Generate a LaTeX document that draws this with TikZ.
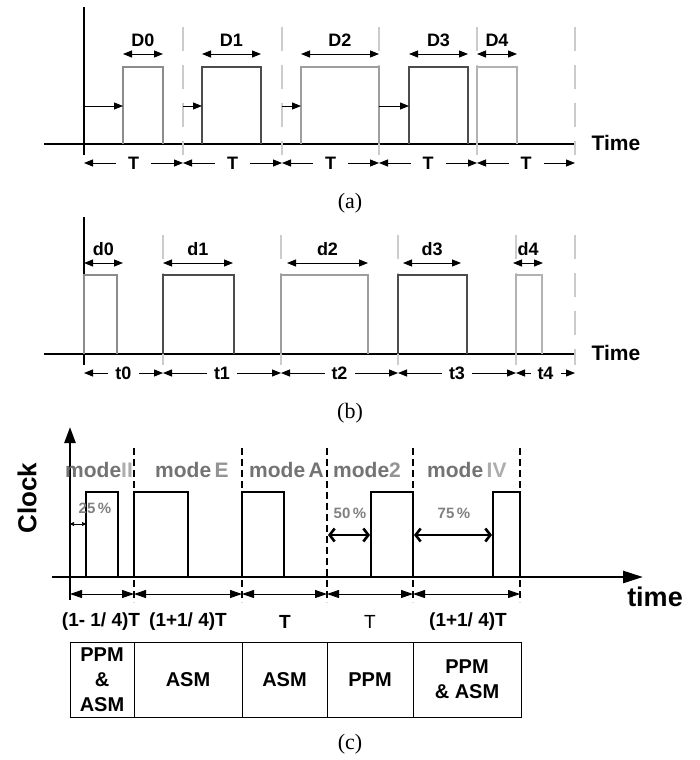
\documentclass[tikz,border=0pt]{standalone}
\usepackage{fontspec}
\setmainfont{Liberation Sans}
\newfontfamily\capfont{Liberation Serif}
\usetikzlibrary{arrows.meta,calc}
\definecolor{gA}{gray}{0.55}
\definecolor{gB}{gray}{0.30}
\definecolor{gC}{gray}{0.62}
\definecolor{gD}{gray}{0.70}
\definecolor{dashg}{gray}{0.80}
\definecolor{modeg}{gray}{0.45}
\definecolor{model}{gray}{0.68}
\definecolor{pctg}{gray}{0.50}
\begin{document}
\begin{tikzpicture}[x=1pt,y=-1pt,
  tri/.style={-{Triangle[length=9pt,width=7pt]}},
  dimar/.style={{Triangle[length=9pt,width=7pt]}-{Triangle[length=9pt,width=7pt]}, line width=0.9pt},
  cdim/.style={{Triangle[length=12pt,width=8pt]}-{Triangle[length=12pt,width=8pt]}, line width=0.9pt},
  barb/.style={{Straight Barb[length=5pt,width=13pt]}-{Straight Barb[length=5pt,width=13pt]}, line width=2.6pt},
  gdash/.style={draw=dashg, line width=2.2pt, dash pattern=on 24pt off 14pt},
  kdash/.style={draw=black, line width=1.3pt, dash pattern=on 7pt off 4pt},
  pulse/.style={line width=1.5pt},
  lab/.style={font=\bfseries\fontsize{18}{21}\selectfont, inner sep=0pt},
  gaplab/.style={font=\bfseries\fontsize{18}{21}\selectfont, fill=white, inner xsep=#1, inner ysep=2pt},
  capt/.style={font=\capfont\fontsize{22}{25}\selectfont, inner sep=0pt},
  modelab/.style={font=\bfseries\fontsize{21}{24}\selectfont, text=modeg, inner sep=0pt, anchor=west},
  pct/.style={font=\bfseries\fontsize{15}{17}\selectfont, text=pctg, inner sep=0pt},
  cell/.style={draw, line width=1pt, minimum height=75pt, inner sep=0pt, align=center, font=\bfseries\fontsize{20}{25}\selectfont},
  tlab/.style={font=\bfseries\fontsize{19}{22}\selectfont, inner sep=0pt},
  timelab/.style={font=\bfseries\fontsize{21}{24}\selectfont, inner sep=0pt},
]
\useasboundingbox (0,0) rectangle (700,760);

% ---------------- (a) ----------------
\coordinate (aTop) at (84,7); \coordinate (aBot) at (84,155);
\draw[line width=1.2pt] (aTop) -- (aBot);
\coordinate (aL) at (44,144); \coordinate (aR) at (575,144);
\draw[line width=1.4pt] (aL) -- (aR);
\foreach \x [count=\i] in {183,282,379,477,575} {
  \coordinate (adt\i) at (\x,27); \coordinate (adb\i) at (\x,155);
  \draw[gdash] (adt\i) -- (adb\i);
}
\foreach \l/\r/\c/\t [count=\i] in {123/163/gA/D0,202/261/gB/D1,301/379/gC/D2,409/468/gB/D3,477/517/gD/D4} {
  \coordinate (apl\i) at (\l,144); \coordinate (apr\i) at (\r,144);
  \draw[pulse,draw=\c] (apl\i) |- (\r,67) -- (apr\i);
  \coordinate (aDl\i) at (\l,54); \coordinate (aDr\i) at (\r,54);
  \draw[dimar] (aDl\i) -- (aDr\i);
  \node[lab] (aDlab\i) at ($(aDl\i)!0.5!(aDr\i)+(0,-14)$) {\t};
}
\foreach \a/\b [count=\i] in {84/123,183/202,282/301,379/409} {
  \coordinate (ahs\i) at (\a,106); \coordinate (ahe\i) at (\b,106);
  \draw[tri,line width=0.9pt] (ahs\i) -- (ahe\i);
}
\foreach \a/\b [count=\i] in {84/183,183/282,282/379,379/477,477/575} {
  \coordinate (aTs\i) at (\a,163); \coordinate (aTe\i) at (\b,163);
  \draw[dimar] (aTs\i) -- node[gaplab=12pt] (aTl\i) {T} (aTe\i);
}
\node[timelab] (aTime) at (616,143) {Time};
\node[capt] (capa) at (350,203) {(a)};

% ---------------- (b) ----------------
\coordinate (bTop) at (84,217); \coordinate (bBot) at (84,365);
\draw[line width=1.2pt] (bTop) -- (bBot);
\coordinate (bL) at (44,354); \coordinate (bR) at (575,354);
\draw[line width=1.4pt] (bL) -- (bR);
\foreach \x [count=\i] in {163,281,398,516,575} {
  \coordinate (bdt\i) at (\x,235); \coordinate (bdb\i) at (\x,365);
  \draw[gdash] (bdt\i) -- (bdb\i);
}
\foreach \l/\r/\c [count=\i] in {84/117/gA,163/234/gB,281/368/gC,398/467/gB,516/542/gD} {
  \coordinate (bpl\i) at (\l,354); \coordinate (bpr\i) at (\r,354);
  \draw[pulse,draw=\c] (bpl\i) |- (\r,275) -- (bpr\i);
}
\foreach \l/\r/\t [count=\i] in {84/123/d0,163/233/d1,287/368/d2,403/461/d3,513/543/d4} {
  \coordinate (bDl\i) at (\l,263); \coordinate (bDr\i) at (\r,263);
  \draw[dimar] (bDl\i) -- (bDr\i);
  \node[lab] (bDlab\i) at ($(bDl\i)!0.5!(bDr\i)+(0,-14)$) {\t};
}
\foreach \a/\b/\t [count=\i] in {84/163/t0,163/281/t1,281/398/t2,398/516/t3,516/575/t4} {
  \coordinate (bTs\i) at (\a,373); \coordinate (bTe\i) at (\b,373);
  \draw[dimar] (bTs\i) -- node[gaplab=7pt] (bTl\i) {\t} (bTe\i);
}
\node[timelab] (bTime) at (616,353) {Time};
\node[capt] (capb) at (350,413) {(b)};

% ---------------- (c) ----------------
\node[font=\bfseries\fontsize{26}{30}\selectfont, rotate=90, inner sep=0pt] (clk) at (27,498) {Clock};
\coordinate (cY0) at (70,600); \coordinate (cY1) at (70,427);
\coordinate (cX0) at (52,577); \coordinate (cX1) at (643,577);
\foreach \x [count=\i] in {134,242,327,413,520} {
  \coordinate (cdt\i) at (\x,448); \coordinate (cdb\i) at (\x,602);
  \draw[kdash] (cdt\i) -- (cdb\i);
}
\foreach \l/\r [count=\i] in {86/118,134/188,242/284,371/413,493/520} {
  \coordinate (cpl\i) at (\l,577); \coordinate (cpr\i) at (\r,577);
  \draw[pulse] (cpl\i) |- (\r,492) -- (cpr\i);
}
\draw[line width=2.6pt, -{Triangle[length=16pt,width=11pt]}] (cY0) -- (cY1);
\draw[line width=2.6pt, -{Triangle[length=20pt,width=12pt]}] (cX0) -- (cX1);
\node[font=\bfseries\fontsize{27}{30}\selectfont, inner sep=0pt] (ctime) at (655,597) {time};

\node[modelab] (m1) at (65,470) {mode\textcolor{model}{II}};
\node[modelab] (m2) at (155,470) {mode\,\textcolor{gray!85}{E}};
\node[modelab] (m3) at (249,470) {mode\,A};
\node[modelab] (m4) at (333,470) {mode\textcolor{gray!85}{2}};
\node[modelab] (m5) at (427,470) {mode\,\textcolor{model}{IV}};

\node[pct] (p25) at (95,508) {25\,\%};
\node[pct] (p50) at (350,513) {50\,\%};
\node[pct] (p75) at (454,513) {75\,\%};
\coordinate (s25a) at (70,524); \coordinate (s25b) at (86,524);
\draw[{Triangle[length=4pt,width=4pt]}-{Triangle[length=4pt,width=4pt]}, line width=0.6pt] (s25a) -- (s25b);
\coordinate (s50a) at (328,535); \coordinate (s50b) at (370,535);
\draw[barb] (s50a) -- (s50b);
\coordinate (s75a) at (414,535); \coordinate (s75b) at (492,535);
\draw[barb] (s75a) -- (s75b);

\foreach \a/\b [count=\i] in {70/134,134/242,242/327,327/413,413/520} {
  \coordinate (cTs\i) at (\a,594); \coordinate (cTe\i) at (\b,594);
  \draw[cdim] (cTs\i) -- (cTe\i);
}
\node[tlab] (l1) at (101,622) {(1- 1/ 4)T};
\node[tlab] (l2) at (188,622) {(1+1/ 4)T};
\node[tlab] (l3) at (285,622) {T};
\node[tlab, font=\fontsize{19}{22}\selectfont] (l4) at (370,622) {T};
\node[tlab] (l5) at (468,622) {(1+1/ 4)T};

\node[cell, minimum width=64pt] (c1) at (102,679.5) {PPM\\\&\\ASM};
\node[cell, minimum width=108pt] (c2) at (188,679.5) {ASM};
\node[cell, minimum width=85pt] (c3) at (284.5,679.5) {ASM};
\node[cell, minimum width=86pt] (c4) at (370,679.5) {PPM};
\node[cell, minimum width=108pt] (c5) at (467,679.5) {PPM\\\& ASM};

\node[capt] (capc) at (350,744) {(c)};
\end{tikzpicture}
\end{document}
